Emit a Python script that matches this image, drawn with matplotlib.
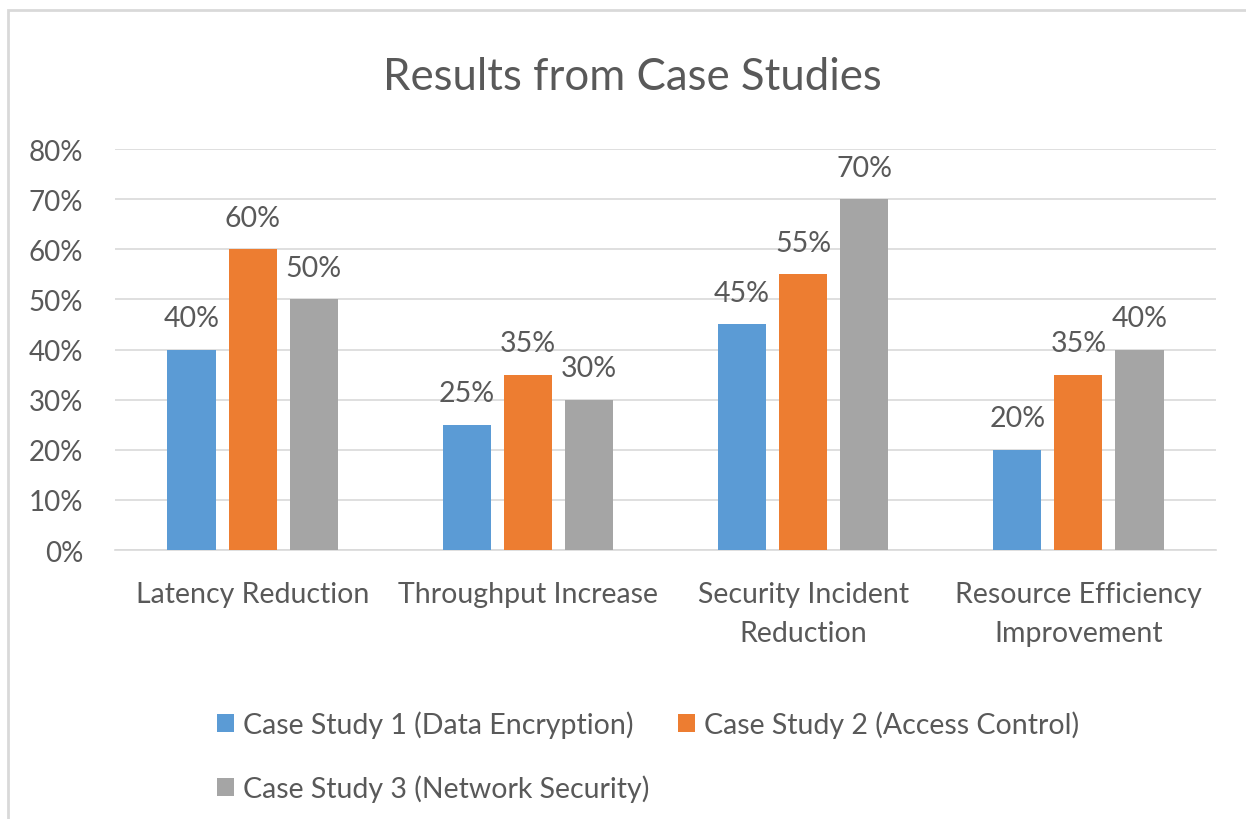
import numpy as np
import matplotlib
matplotlib.use("Agg")
import matplotlib.pyplot as plt
from matplotlib.patches import Rectangle

categories = ["Latency Reduction", "Throughput Increase",
              "Security Incident\nReduction", "Resource Efficiency\nImprovement"]
series_names = ["Case Study 1 (Data Encryption)",
                "Case Study 2 (Access Control)",
                "Case Study 3 (Network Security)"]
cs1 = [40, 25, 45, 20]
cs2 = [60, 35, 55, 35]
cs3 = [50, 30, 70, 40]
y_ticks = [0, 10, 20, 30, 40, 50, 60, 70, 80]

colors = ["#5b9bd5", "#ed7d31", "#a5a5a5"]
text_color = "#595959"
fs = 20.5

plt.rcParams['font.family'] = ['Lato', 'DejaVu Sans']

fig = plt.figure(figsize=(12.46, 8.2), dpi=100)
ax = fig.add_axes([0.0923, 0.328, 0.8836, 0.489])

x = np.arange(len(categories))
width = 0.175
offsets = [-0.222, 0.0, 0.222]
handles = []
for vals, off, col, name in zip([cs1, cs2, cs3], offsets, colors, series_names):
    b = ax.bar(x + off, vals, width, color=col, label=name, zorder=3)
    handles.append(b)
    for xi, v in zip(x + off, vals):
        ax.annotate(f"{v}%", (xi, v), xytext=(0, 17), textcoords="offset points",
                    ha="center", va="baseline", fontsize=fs, color=text_color)

ax.set_xlim(-0.5, 3.5)
ax.set_ylim(0, 80)
ax.set_yticks(y_ticks)
ax.set_yticklabels([f"{t}%" for t in y_ticks], fontsize=fs - 0.5, color=text_color)
ax.set_xticks(x)
ax.set_xticklabels(categories, fontsize=fs, color=text_color, linespacing=1.62)
ax.tick_params(axis="both", length=0)
ax.tick_params(axis="x", pad=22)
ax.tick_params(axis="y", pad=23)
ax.grid(axis="y", color="#d9d9d9", linewidth=1.2, zorder=0)
for s in ["top", "right", "left"]:
    ax.spines[s].set_visible(False)
ax.spines["bottom"].set_color("#d9d9d9")
ax.spines["bottom"].set_linewidth(1.2)

fig.text(0.5076, 1 - 90 / 820, "Results from Case Studies", ha="center",
         va="baseline", fontsize=31.5, color=text_color)

leg = fig.legend([handles[0], handles[2], handles[1]],
                 [series_names[0], series_names[2], series_names[1]],
                 ncol=2, loc="upper left", bbox_to_anchor=(0.1538, 0.1634),
                 frameon=False, fontsize=fs, handlelength=0.6, handleheight=0.6,
                 handletextpad=0.32, columnspacing=1.0, labelspacing=1.28)
for t in leg.get_texts():
    t.set_color(text_color)

# outer chart border
fig.patches.append(Rectangle((8 / 1246, -0.05), 1.2, (820 - 11) / 820 + 0.05,
                             transform=fig.transFigure, fill=False,
                             edgecolor="#d9d9d9", linewidth=2))

fig.savefig("out.png", dpi=100)
